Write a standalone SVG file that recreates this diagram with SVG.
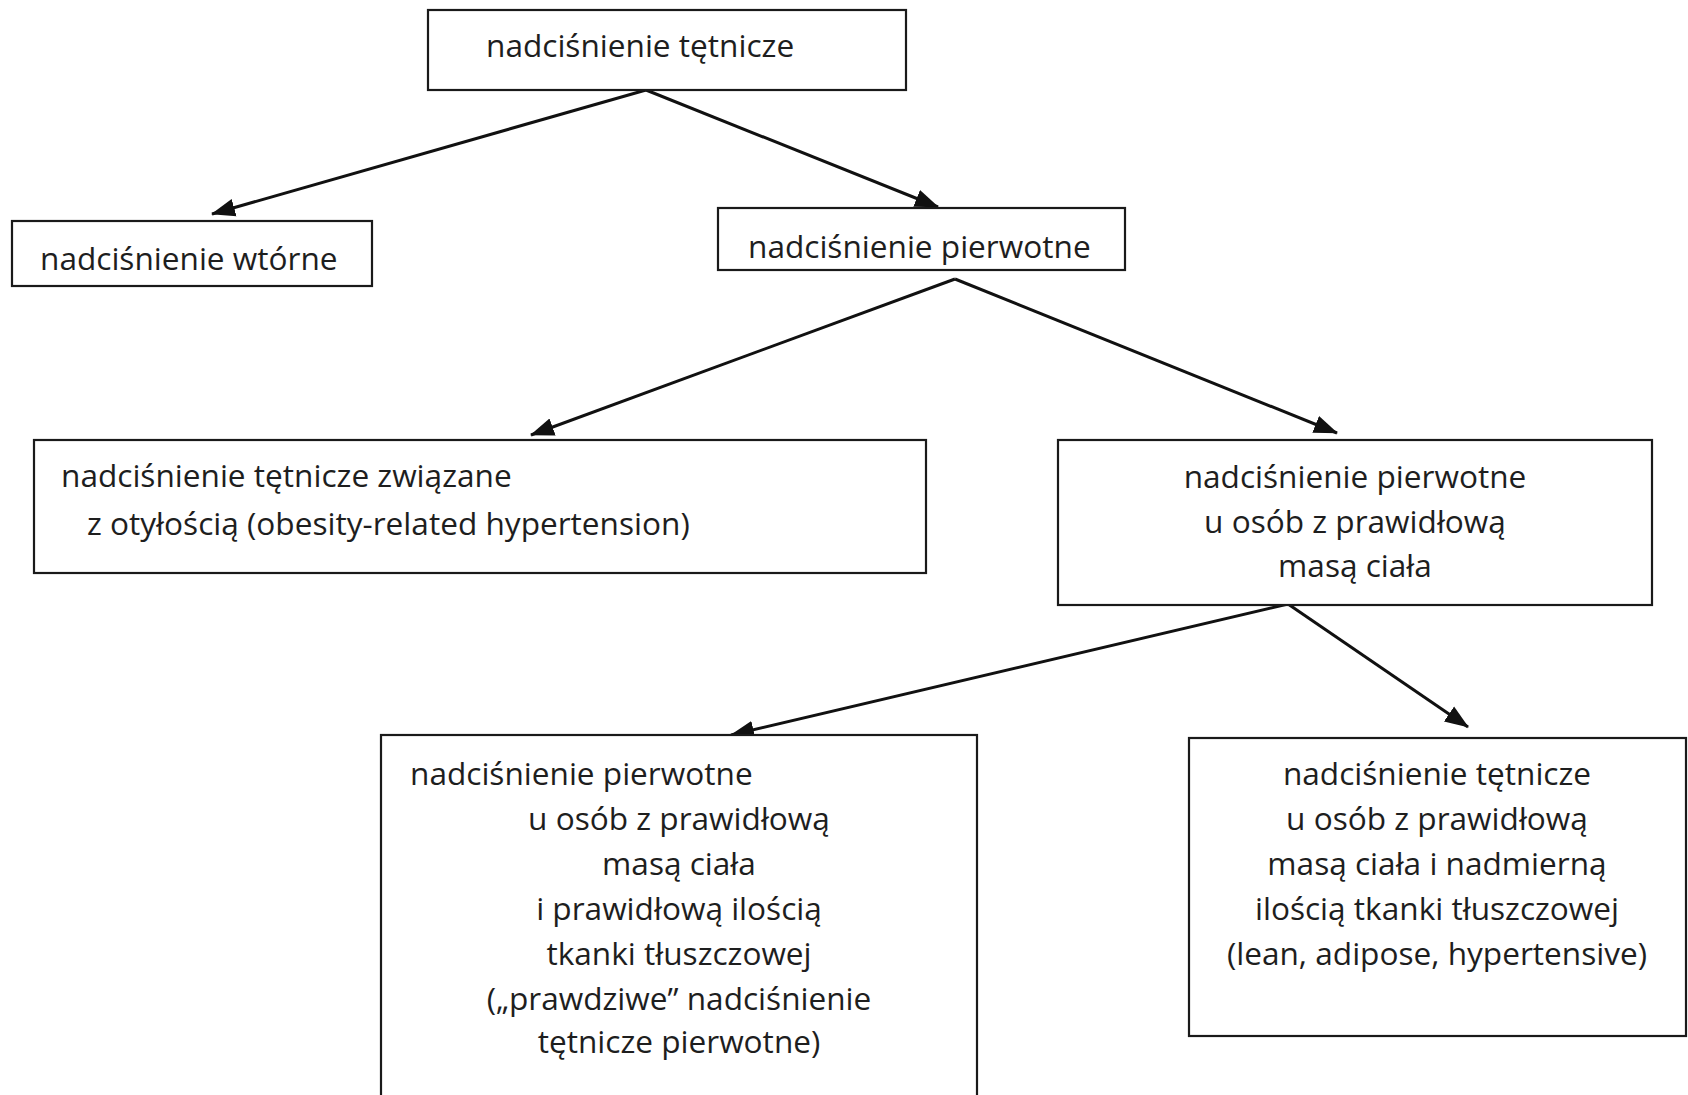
<svg xmlns="http://www.w3.org/2000/svg" width="1688" height="1095" viewBox="0 0 1688 1095">
<defs>
<style>
.box{fill:#ffffff;stroke:#1a1a1a;stroke-width:2.2}
.t{font-family:"Open Sans","Noto Sans","DejaVu Sans",sans-serif;font-size:31.6px;fill:#1e1e1e}
.c{text-anchor:middle}
.edge{stroke:#111;stroke-width:3;fill:none;marker-end:url(#ah)}
</style>
<marker id="ah" markerUnits="userSpaceOnUse" markerWidth="24" markerHeight="20" viewBox="0 0 24 20" refX="23" refY="10" orient="auto">
<path d="M0,1 L24,10 L0,19 Z" fill="#111"/>
</marker>
</defs>
<rect width="1688" height="1095" fill="#ffffff"/>
<g id="connectors">
<line class="edge" x1="646" y1="90" x2="212" y2="214"/>
<line class="edge" x1="646" y1="90" x2="938" y2="207"/>
<line class="edge" x1="955" y1="279" x2="531" y2="435"/>
<line class="edge" x1="955" y1="279" x2="1337" y2="433"/>
<line class="edge" x1="1288" y1="604" x2="731" y2="735"/>
<line class="edge" x1="1288" y1="604" x2="1468" y2="727"/>
</g>
<g id="n1">
<rect class="box" x="428" y="10" width="478" height="80"/>
<text class="t" x="486" y="57">nadciśnienie tętnicze</text>
</g>
<g id="n2">
<rect class="box" x="12" y="221" width="360" height="65"/>
<text class="t" x="40" y="270">nadciśnienie wtórne</text>
</g>
<g id="n3">
<rect class="box" x="718" y="208" width="407" height="62"/>
<text class="t" x="748" y="258">nadciśnienie pierwotne</text>
</g>
<g id="n4">
<rect class="box" x="34" y="440" width="892" height="133"/>
<text class="t" x="61" y="487">nadciśnienie tętnicze związane</text>
<text class="t" x="87" y="535">z otyłością (obesity-related hypertension)</text>
</g>
<g id="n5">
<rect class="box" x="1058" y="440" width="594" height="165"/>
<text class="t c" x="1355" y="488">nadciśnienie pierwotne</text>
<text class="t c" x="1355" y="533">u osób z prawidłową</text>
<text class="t c" x="1355" y="577">masą ciała</text>
</g>
<g id="n6">
<rect class="box" x="381" y="735" width="596" height="380"/>
<text class="t" x="410" y="785">nadciśnienie pierwotne</text>
<text class="t c" x="679" y="830">u osób z prawidłową</text>
<text class="t c" x="679" y="875">masą ciała</text>
<text class="t c" x="679" y="920">i prawidłową ilością</text>
<text class="t c" x="679" y="965">tkanki tłuszczowej</text>
<text class="t c" x="679" y="1010">(„prawdziwe” nadciśnienie</text>
<text class="t c" x="679" y="1053">tętnicze pierwotne)</text>
</g>
<g id="n7">
<rect class="box" x="1189" y="738" width="497" height="298"/>
<text class="t c" x="1437" y="785">nadciśnienie tętnicze</text>
<text class="t c" x="1437" y="830">u osób z prawidłową</text>
<text class="t c" x="1437" y="875">masą ciała i nadmierną</text>
<text class="t c" x="1437" y="920">ilością tkanki tłuszczowej</text>
<text class="t c" x="1437" y="965">(lean, adipose, hypertensive)</text>
</g>
</svg>
